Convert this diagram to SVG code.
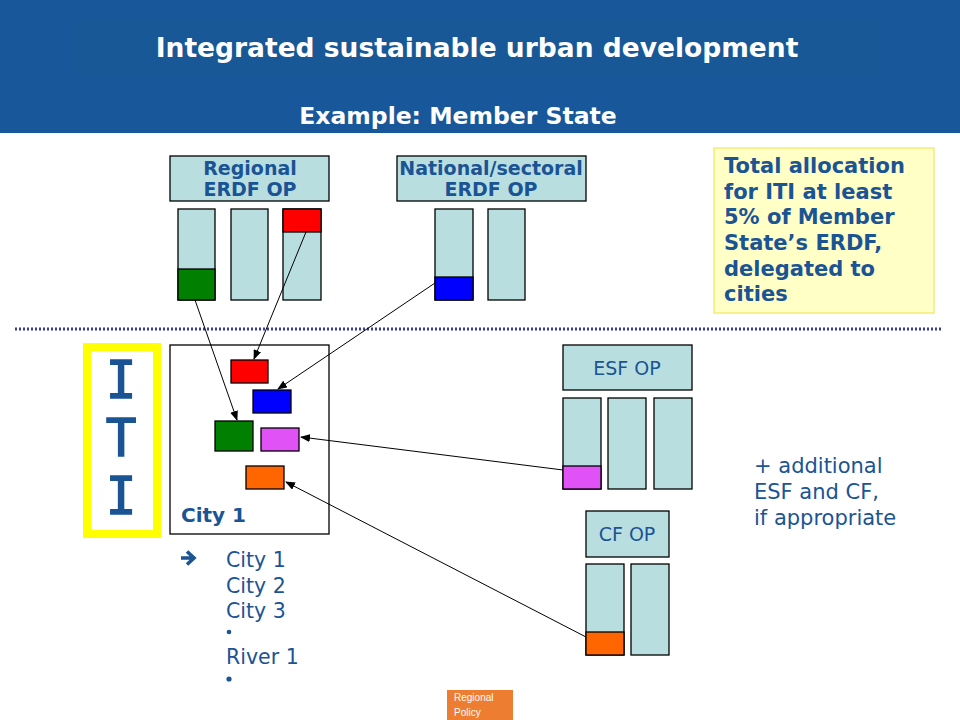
<svg xmlns="http://www.w3.org/2000/svg" width="960" height="720" viewBox="0 0 960 720">
<style>
.t{font-family:"DejaVu Sans","Liberation Sans",sans-serif;fill:#1a5494}
.b{font-weight:bold}
.op{fill:#b9dee0;stroke:#000;stroke-width:1.3}
.bar{fill:#b9dee0;stroke:#000;stroke-width:1.3}
.c{stroke:#000;stroke-width:1.3}
.ln{stroke:#000;stroke-width:1;fill:none;marker-end:url(#ah)}
.iti{font-family:"DejaVu Sans Mono","Liberation Mono",monospace;fill:#1a5494;stroke:#1a5494;stroke-width:1.4}
</style>
<defs>
<marker id="ah" markerWidth="10" markerHeight="8" refX="9" refY="4" orient="auto" markerUnits="userSpaceOnUse">
<path d="M0,0 L10,4 L0,8 z" fill="#000"/>
</marker>
</defs>
<rect width="960" height="720" fill="#fff"/>
<g id="header">
<rect x="0" y="0" width="960" height="133" fill="#17579a"/>
<rect x="75" y="20" width="805" height="55" fill="#185896"/>
<text x="477" y="57" text-anchor="middle" font-family="DejaVu Sans,Liberation Sans,sans-serif" font-weight="bold" font-size="26.5" fill="#fff">Integrated sustainable urban development</text>
<text x="458" y="124" text-anchor="middle" font-family="DejaVu Sans,Liberation Sans,sans-serif" font-weight="bold" font-size="23.5" fill="#fff">Example: Member State</text>
</g>
<g id="regional">
<rect class="op" x="170" y="156" width="159" height="45"/>
<text class="t b" x="250" y="175" text-anchor="middle" font-size="19">Regional</text>
<text class="t b" x="250" y="196" text-anchor="middle" font-size="19">ERDF OP</text>
<rect class="bar" x="178" y="209" width="37" height="91"/>
<rect class="c" x="178" y="269" width="37" height="31" fill="#007f00"/>
<rect class="bar" x="231" y="209" width="37" height="91"/>
<rect class="bar" x="283" y="209" width="38" height="91"/>
<rect class="c" x="283" y="209" width="38" height="23" fill="#ff0000"/>
</g>
<g id="national">
<rect class="op" x="397" y="156" width="189" height="45"/>
<text class="t b" x="491" y="175" text-anchor="middle" font-size="19">National/sectoral</text>
<text class="t b" x="491" y="196" text-anchor="middle" font-size="19">ERDF OP</text>
<rect class="bar" x="435" y="209" width="38" height="91"/>
<rect class="c" x="435" y="277" width="38" height="23" fill="#0000ff"/>
<rect class="bar" x="488" y="209" width="37" height="91"/>
</g>
<g id="allocation">
<rect x="714" y="148" width="220" height="165" fill="#ffffc6" stroke="#f3e86a" stroke-width="1.3"/>
<text class="t b" font-size="21"><tspan x="724" y="173">Total allocation</tspan><tspan x="724" y="199">for ITI at least</tspan><tspan x="724" y="224">5% of Member</tspan><tspan x="724" y="250">State’s ERDF,</tspan><tspan x="724" y="276">delegated to</tspan><tspan x="724" y="301">cities</tspan></text>
</g>
<line x1="15" y1="329" x2="942" y2="329" stroke="#3b3b99" stroke-width="3" stroke-dasharray="2,2"/>
<g id="iti">
<rect x="87" y="347" width="70" height="187" fill="#fff" stroke="#ffff00" stroke-width="8"/>
<text class="iti" x="121" y="398" text-anchor="middle" font-size="51">I</text>
<text class="iti" x="121" y="456" text-anchor="middle" font-size="51">T</text>
<text class="iti" x="121" y="514" text-anchor="middle" font-size="51">I</text>
</g>
<g id="city1">
<rect x="170" y="345" width="159" height="189" fill="#fff" stroke="#000" stroke-width="1.3"/>
<rect class="c" x="231" y="360" width="37" height="23" fill="#ff0000"/>
<rect class="c" x="253" y="390" width="38" height="23" fill="#0000ff"/>
<rect class="c" x="215" y="421" width="38" height="30" fill="#007f00"/>
<rect class="c" x="261" y="428" width="38" height="23" fill="#e052f5"/>
<rect class="c" x="246" y="466" width="38" height="23" fill="#ff6600"/>
<text class="t b" x="181" y="522" font-size="20">City 1</text>
</g>
<g id="esf">
<rect class="op" x="563" y="345" width="129" height="45"/>
<text class="t" x="627" y="375" text-anchor="middle" font-size="19">ESF OP</text>
<rect class="bar" x="563" y="398" width="38" height="91"/>
<rect class="c" x="563" y="466" width="38" height="23" fill="#e052f5"/>
<rect class="bar" x="608" y="398" width="38" height="91"/>
<rect class="bar" x="654" y="398" width="38" height="91"/>
</g>
<g id="cf">
<rect class="op" x="586" y="511" width="83" height="46"/>
<text class="t" x="627" y="541" text-anchor="middle" font-size="19">CF OP</text>
<rect class="bar" x="586" y="564" width="38" height="91"/>
<rect class="c" x="586" y="632" width="38" height="23" fill="#ff6600"/>
<rect class="bar" x="631" y="564" width="38" height="91"/>
</g>
<g id="connectors">
<line class="ln" x1="195" y1="300" x2="237" y2="420"/>
<line class="ln" x1="306" y1="232" x2="254" y2="359"/>
<line class="ln" x1="435" y1="283" x2="278" y2="389"/>
<line class="ln" x1="563" y1="470" x2="301" y2="437"/>
<line class="ln" x1="586" y1="637" x2="286" y2="482"/>
</g>
<g id="additional">
<text class="t" font-size="21"><tspan x="754" y="473">+ additional</tspan><tspan x="754" y="499">ESF and CF,</tspan><tspan x="754" y="525">if appropriate</tspan></text>
</g>
<g id="list">
<path d="M181,558 L193,558 M187,551.5 L194,558 L187,564.5" stroke="#1a5494" stroke-width="3.6" fill="none" stroke-linejoin="miter"/>
<text class="t" font-size="20.5"><tspan x="226" y="567">City 1</tspan><tspan x="226" y="593">City 2</tspan><tspan x="226" y="618">City 3</tspan><tspan x="226" y="664">River 1</tspan></text>
<circle cx="229" cy="632" r="2.3" fill="#1a5494"/>
<circle cx="229" cy="679" r="2.6" fill="#1a5494"/>
</g>
<g id="footer">
<rect x="447" y="690" width="66" height="30" fill="#ed7d31"/>
<text x="454" y="701" font-family="Liberation Sans,sans-serif" font-size="10" fill="#fff">Regional</text>
<text x="454" y="716" font-family="Liberation Sans,sans-serif" font-size="10" fill="#fff">Policy</text>
</g>
</svg>
